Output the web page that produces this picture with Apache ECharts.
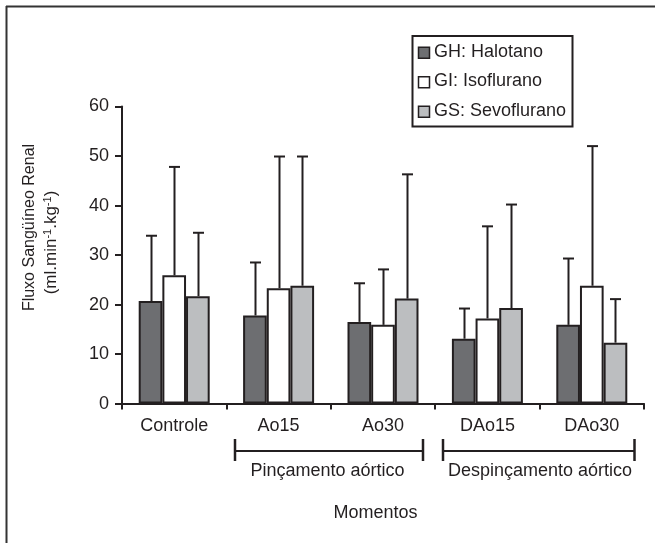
<!DOCTYPE html>
<html>
<head>
<meta charset="utf-8">
<script src="https://cdn.jsdelivr.net/npm/echarts@6/dist/echarts.min.js"></script>
<style>
html,body{margin:0;padding:0;background:#fff;}
#chart{width:655px;height:543px;}
</style>
</head>
<body>
<div id="chart"></div>
<script>
// ---- data ----
const categories = ['Controle', 'Ao15', 'Ao30', 'DAo15', 'DAo30'];
const seriesNames = ['GH: Halotano', 'GI: Isoflurano', 'GS: Sevoflurano'];
const ghMean  = [20.7, 17.8, 16.5, 13.1, 15.9];
const ghUpper = [33.9, 28.5, 24.3, 19.2, 29.3];
const giMean  = [25.9, 23.3, 15.9, 17.2, 23.8];
const giUpper = [47.8, 49.9, 27.1, 35.8, 52.0];
const gsMean  = [21.7, 23.8, 21.2, 19.3, 12.3];
const gsUpper = [34.5, 49.9, 46.3, 40.2, 21.1];
const yTicks = { min: 0, max: 60, interval: 10 };
const groupLabels = ['Pinçamento aórtico', 'Despinçamento aórtico'];
const xTitle = 'Momentos';
const yTitle1 = 'Fluxo Sangüíneo Renal';

// ---- styles ----
const INK = '#231f20';
const colors = ['#6d6e71', '#ffffff', '#bcbec0'];
const FONT = '"Liberation Sans", Arial, Helvetica, sans-serif';
const CAT_GAP = 0.32;

const means = [ghMean, giMean, gsMean];
const uppers = [ghUpper, giUpper, gsUpper];

const chart = echarts.init(document.getElementById('chart'), null, { renderer: 'canvas' });

function barSeries(idx) {
  return {
    type: 'bar',
    name: seriesNames[idx],
    data: means[idx],
    barGap: '0%',
    barCategoryGap: (CAT_GAP * 100) + '%',
    itemStyle: { color: colors[idx], borderColor: INK, borderWidth: 2 },
    emphasis: { disabled: true },
    z: 2
  };
}

function errSeries(idx) {
  return {
    type: 'custom',
    name: seriesNames[idx] + ' err',
    data: categories.map((c, i) => [i, means[idx][i], uppers[idx][i]]),
    encode: { x: 0, y: [1, 2] },
    z: 3,
    silent: true,
    renderItem: function (params, api) {
      const ci = api.value(0);
      const band = api.size([1, 0])[0];
      const barW = band * (1 - CAT_GAP) / 3;
      const off = (idx - 1) * barW;
      const p0 = api.coord([ci, api.value(1)]);
      const p1 = api.coord([ci, api.value(2)]);
      const x = Math.round(p0[0] + off) + 0.5;
      return {
        type: 'group',
        children: [
          { type: 'line', shape: { x1: x, y1: p0[1], x2: x, y2: p1[1] }, style: { stroke: INK, lineWidth: 2 } },
          { type: 'line', shape: { x1: x - 5.5, y1: p1[1], x2: x + 5.5, y2: p1[1] }, style: { stroke: INK, lineWidth: 2 } }
        ]
      };
    }
  };
}

// legend drawn as graphic
const legendChildren = [
  { type: 'rect', shape: { x: 412.5, y: 36, width: 160, height: 90.5 }, style: { fill: '#fff', stroke: INK, lineWidth: 2 } }
];
const legendRowY = [51.7, 81.2, 110.7];
seriesNames.forEach((n, i) => {
  legendChildren.push({ type: 'rect', shape: { x: 418.5, y: legendRowY[i] - 4.5, width: 11, height: 11 }, style: { fill: colors[i], stroke: INK, lineWidth: 1.5 } });
  legendChildren.push({ type: 'text', x: 434, y: legendRowY[i], style: { text: n, font: '18px ' + FONT, fill: INK, textVerticalAlign: 'middle', textAlign: 'left' } });
});

const graphics = [
  // outer frame (top and left)
  { type: 'line', shape: { x1: 6, y1: 6.5, x2: 655, y2: 6.5 }, style: { stroke: '#333', lineWidth: 2 } },
  { type: 'line', shape: { x1: 6.5, y1: 6, x2: 6.5, y2: 543 }, style: { stroke: '#333', lineWidth: 2 } },
  // y title
  {
    type: 'text', x: 30, y: 227.5, rotation: Math.PI / 2,
    style: { text: yTitle1, font: '16px ' + FONT, fill: INK, textAlign: 'center', textVerticalAlign: 'middle' }
  },
  {
    type: 'text', x: 51, y: 242.5, rotation: Math.PI / 2,
    style: {
      text: '{m|(ml.min}{s|-1}{m|.kg}{s|-1}{m|)}',
      fill: INK, textAlign: 'center', textVerticalAlign: 'middle',
      rich: {
        m: { fontSize: 17, fontFamily: FONT, fill: INK, verticalAlign: 'bottom' },
        s: { fontSize: 11, fontFamily: FONT, fill: INK, verticalAlign: 'top' }
      }
    }
  },
  // brackets
  { type: 'line', shape: { x1: 235, y1: 451, x2: 423, y2: 451 }, style: { stroke: INK, lineWidth: 2 } },
  { type: 'line', shape: { x1: 235, y1: 439, x2: 235, y2: 461 }, style: { stroke: INK, lineWidth: 2.5 } },
  { type: 'line', shape: { x1: 423, y1: 439, x2: 423, y2: 461 }, style: { stroke: INK, lineWidth: 2.5 } },
  { type: 'line', shape: { x1: 443, y1: 451, x2: 634.5, y2: 451 }, style: { stroke: INK, lineWidth: 2 } },
  { type: 'line', shape: { x1: 443, y1: 439, x2: 443, y2: 461 }, style: { stroke: INK, lineWidth: 2.5 } },
  { type: 'line', shape: { x1: 634.5, y1: 439, x2: 634.5, y2: 461 }, style: { stroke: INK, lineWidth: 2.5 } },
  { type: 'text', x: 327.5, y: 471, style: { text: groupLabels[0], font: '18px ' + FONT, fill: INK, textAlign: 'center', textVerticalAlign: 'middle' } },
  { type: 'text', x: 540, y: 471, style: { text: groupLabels[1], font: '18px ' + FONT, fill: INK, textAlign: 'center', textVerticalAlign: 'middle' } },
  { type: 'text', x: 375.5, y: 513, style: { text: xTitle, font: '18px ' + FONT, fill: INK, textAlign: 'center', textVerticalAlign: 'middle' } },
  { type: 'group', children: legendChildren, z: 10 }
];

const option = {
  animation: false,
  backgroundColor: '#fff',
  textStyle: { fontFamily: FONT },
  grid: { left: 122, right: 11, top: 106.5, bottom: 139.4, containLabel: false },
  xAxis: {
    type: 'category',
    data: categories,
    axisLine: { lineStyle: { color: INK, width: 2 } },
    axisTick: { show: true, length: 6, lineStyle: { color: INK, width: 2 } },
    axisLabel: { fontSize: 18, color: INK, margin: 13, fontFamily: FONT },
    splitLine: { show: false }
  },
  yAxis: {
    type: 'value',
    min: yTicks.min, max: yTicks.max, interval: yTicks.interval,
    axisLine: { show: true, lineStyle: { color: INK, width: 2 } },
    axisTick: { show: true, length: 7, lineStyle: { color: INK, width: 2 } },
    axisLabel: { fontSize: 18, color: INK, margin: 13, fontFamily: FONT },
    splitLine: { show: false }
  },
  series: [barSeries(0), barSeries(1), barSeries(2), errSeries(0), errSeries(1), errSeries(2)],
  graphic: graphics
};
chart.setOption(option);
</script>
</body>
</html>
